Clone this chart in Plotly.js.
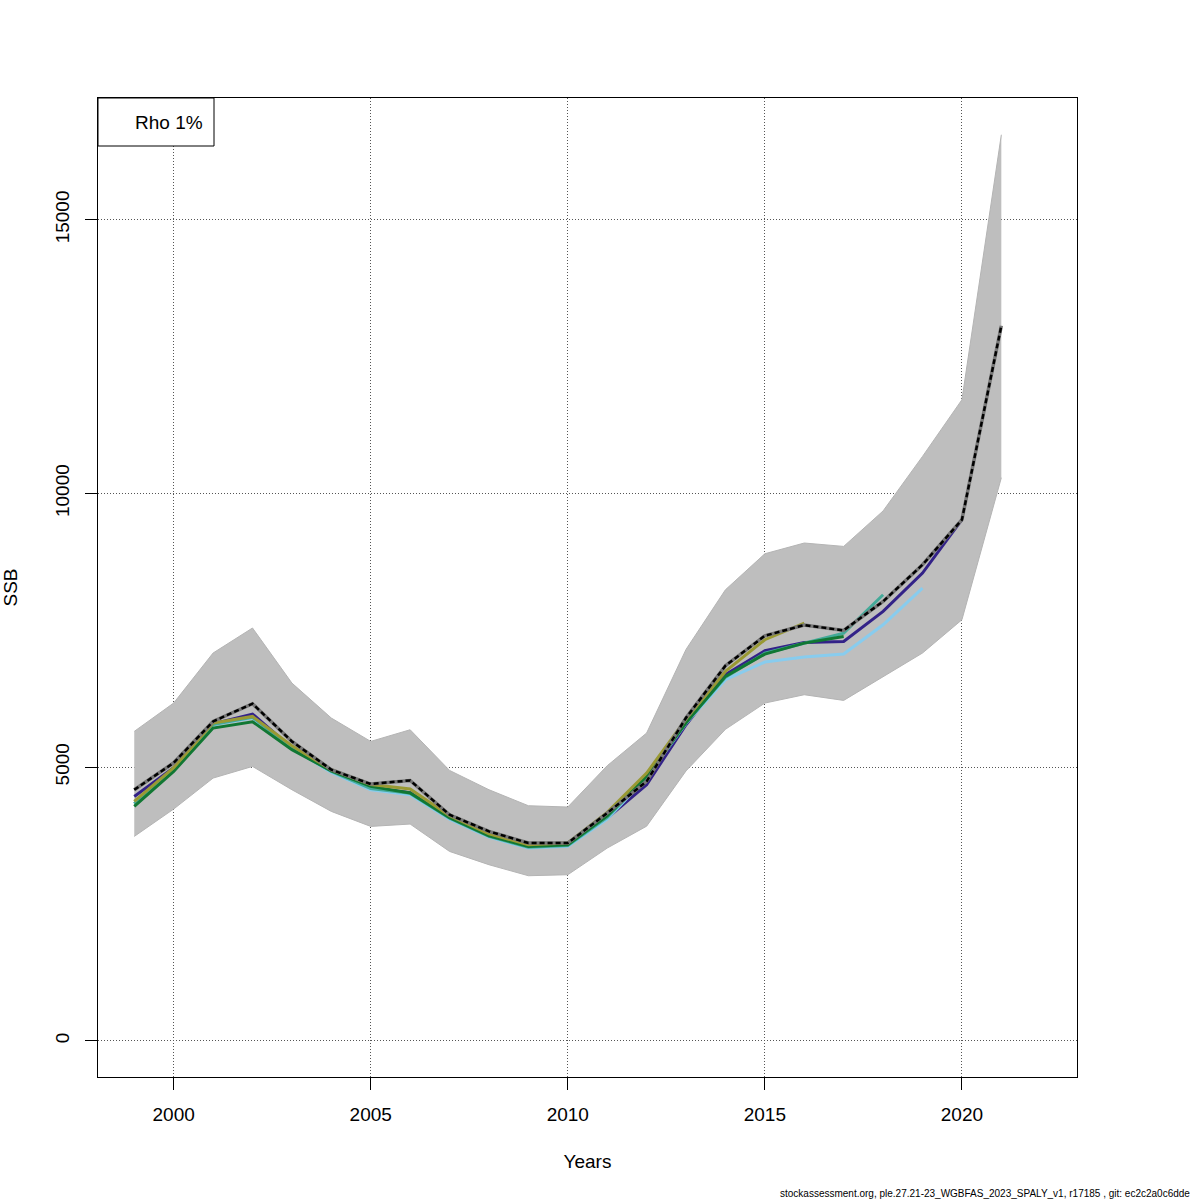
<!DOCTYPE html>
<html>
<head>
<meta charset="utf-8">
<script src="https://cdn.plot.ly/plotly-3.0.1.min.js"></script>
<style>
html,body{margin:0;padding:0;background:#fff;}
#chart{width:1200px;height:1200px;}
</style>
</head>
<body>
<div id="chart"></div>
<script>
const years = [1999,2000,2001,2002,2003,2004,2005,2006,2007,2008,2009,2010,2011,2012,2013,2014,2015,2016,2017,2018,2019,2020,2021];
const ssb   = [4586,5078,5834,6158,5469,4952,4690,4756,4129,3825,3612,3612,4160,4740,5900,6852,7400,7595,7497,8027,8697,9520,13064];
const upper = [5652,6170,7084,7541,6535,5896,5469,5682,4939,4586,4294,4270,5025,5622,7150,8240,8898,9094,9032,9680,10676,11712,16554];
const lower = [3733,4233,4799,5012,4586,4190,3916,3959,3459,3216,3015,3033,3520,3920,4930,5690,6170,6322,6218,6656,7084,7692,10287];

const peel1 = [4464,4990,5790,5969,5348,4930,4617,4530,4060,3740,3540,3570,4069,4678,5774,6687,7126,7278,7296,7844,8545,9520];
const peel2 = [4330,4940,5775,5895,5340,4903,4586,4495,4050,3722,3520,3551,4050,4810,5800,6596,6919,7010,7065,7601,8270];
const peel3 = [4330,4945,5780,5910,5345,4920,4610,4520,4065,3735,3535,3565,4080,4820,5810,6640,7080,7260,7448,8149];
const peel4 = [4281,4921,5713,5829,5318,4930,4647,4526,4075,3746,3551,3581,4110,4830,5810,6657,7065,7265,7387];
const peel5 = [4373,4990,5805,5926,5390,4952,4680,4599,4111,3782,3581,3612,4172,4891,5877,6748,7327,7632];

const peels = [peel1, peel2, peel3, peel4, peel5];
const peelColors = ['#332288','#88CCEE','#44AA99','#117733','#999933'];

const xTicks = [2000,2005,2010,2015,2020];
const yTicks = [0,5000,10000,15000];
const legendText = 'Rho 1%';
const footer = 'stockassessment.org, ple.27.21-23_WGBFAS_2023_SPALY_v1, r17185 , git: ec2c2a0c6dde';

const traces = [];
traces.push({x: years, y: lower, type:'scatter', mode:'lines', line:{color:'#b4b4b4', width:1}, hoverinfo:'skip', showlegend:false});
traces.push({x: years, y: upper, type:'scatter', mode:'lines', fill:'tonexty', fillcolor:'#bebebe', line:{color:'#b4b4b4', width:1}, hoverinfo:'skip', showlegend:false});
peels.forEach((p,i)=>{
  traces.push({x: years.slice(0,p.length), y: p, type:'scatter', mode:'lines', line:{color:peelColors[i], width:3}, showlegend:false});
});
traces.push({x: years, y: ssb, type:'scatter', mode:'lines', line:{color:'#777777', width:3.5}, showlegend:false});
traces.push({x: years, y: ssb, type:'scatter', mode:'lines', line:{color:'#000000', width:2.5, dash:'5px,3px'}, showlegend:false});

const font = {family:'Liberation Sans, Arial, Helvetica, sans-serif', size:19, color:'#000'};

const layout = {
  width:1200, height:1200,
  margin:{l:98, r:123, t:98, b:123},
  paper_bgcolor:'#fff', plot_bgcolor:'#fff',
  font: font,
  showlegend:false,
  xaxis:{
    range:[1998.08, 2022.92], tickvals:xTicks, ticktext:xTicks.map(String),
    showgrid:true, gridcolor:'#555', griddash:'1px,2px', gridwidth:1,
    zeroline:false, showline:true, mirror:true, linecolor:'#000', linewidth:1,
    ticks:'outside', ticklen:12, tickcolor:'#000', tickwidth:1,
    ticklabelstandoff:8,
    tickfont:font,
    title:{text:'Years', font:font, standoff:30}
  },
  yaxis:{
    range:[-662.5, 17225], tickvals:yTicks, ticktext:yTicks.map(String),
    showgrid:true, gridcolor:'#555', griddash:'1px,2px', gridwidth:1,
    zeroline:false, showline:true, mirror:true, linecolor:'#000', linewidth:1,
    ticks:'outside', ticklen:12, tickcolor:'#000', tickwidth:1,
    tickangle:-90, ticklabelstandoff:8,
    tickfont:font,
    title:{text:'SSB', font:font, standoff:29}
  },
  shapes:[
    {type:'rect', xref:'paper', yref:'paper', x0:0, x1:(214-98)/979, y0:(1077-146)/979, y1:1, line:{color:'#000', width:1}, fillcolor:'#fff', layer:'above'}
  ],
  annotations:[
    {xref:'paper', yref:'paper', x:(205-98)/979, y:(1077-122.5)/979, xanchor:'right', yanchor:'middle', text:legendText, showarrow:false, font:font},
    {xref:'paper', yref:'paper', x:(1192-98)/979, y:(1077-1193)/979, xanchor:'right', yanchor:'middle', text:footer, showarrow:false, font:{family:font.family, size:10, color:'#000'}}
  ]
};

Plotly.newPlot('chart', traces, layout, {displayModeBar:false, staticPlot:true});
</script>
</body>
</html>
